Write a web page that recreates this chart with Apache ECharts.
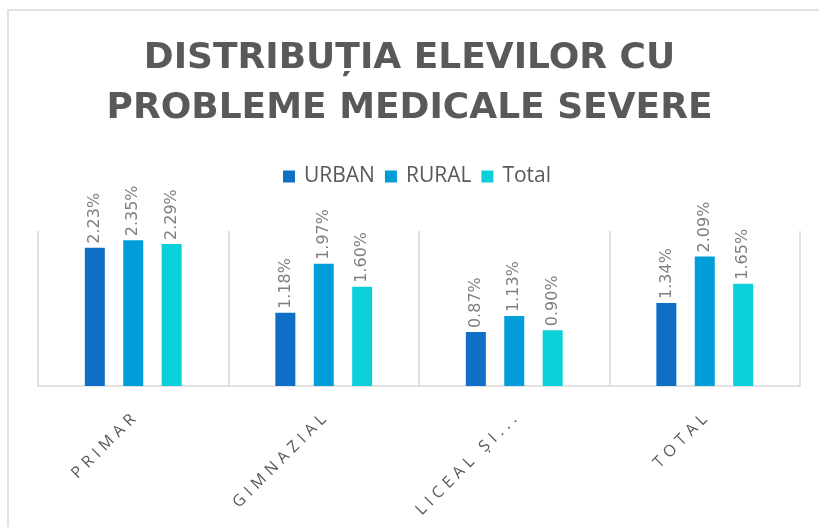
<!DOCTYPE html>
<html>
<head>
<meta charset="utf-8">
<script src="https://cdn.jsdelivr.net/npm/echarts@6/dist/echarts.min.js"></script>
<style>
html,body{margin:0;padding:0;background:#fff;}
#chart{width:819px;height:527px;}
</style>
</head>
<body>
<div id="chart"></div>
<script>
const titleText = 'DISTRIBUȚIA ELEVILOR CU\nPROBLEME MEDICALE SEVERE';
const categories = ['PRIMAR', 'GIMNAZIAL', 'LICEAL ȘI...', 'TOTAL'];
const seriesNames = ['URBAN', 'RURAL', 'Total'];
const urbanValues = [2.23, 1.18, 0.87, 1.34];
const ruralValues = [2.35, 1.97, 1.13, 2.09];
const totalValues = [2.29, 1.60, 0.90, 1.65];

const colors = ['#0F6FC6', '#009DD9', '#0BD0D9'];
const seriesData = [urbanValues, ruralValues, totalValues];

const chart = echarts.init(document.getElementById('chart'), null, {renderer: 'canvas'});

const labelCfg = {
  show: true,
  position: 'top',
  rotate: 90,
  align: 'left',
  verticalAlign: 'middle',
  distance: 4,
  color: '#7f7f7f',
  fontSize: 16,
  fontFamily: 'DejaVu Sans',
  formatter: p => p.value.toFixed(2) + '%'
};

// spaced-out axis labels (letter spacing emulated with rich text padding)
function spaced(text) {
  const chars = Array.from(text);
  return chars.map((c, i) => (i < chars.length - 1 ? '{s|' : '{e|') + c + '}').join('');
}

chart.setOption({
  animation: false,
  backgroundColor: '#ffffff',
  color: colors,
  graphic: [{
    type: 'rect',
    shape: {x: 8, y: 10, width: 900, height: 700},
    style: {fill: 'none', stroke: '#d9d9d9', lineWidth: 1.5},
    silent: true,
    z: -1
  }],
  title: {
    text: titleText,
    left: 'center',
    top: 29,
    textStyle: {
      fontFamily: 'DejaVu Sans',
      fontWeight: 'bold',
      fontSize: 36,
      lineHeight: 50,
      color: '#595959'
    }
  },
  legend: {
    data: seriesNames,
    left: 283,
    top: 166,
    padding: 0,
    icon: 'rect',
    itemWidth: 12,
    itemHeight: 12,
    itemGap: 10,
    textStyle: {
      fontFamily: 'Open Sans',
      fontSize: 21,
      color: '#595959',
      padding: [0, 0, 0, 4]
    }
  },
  grid: {left: 38, right: 19, top: 231, bottom: 141, containLabel: false},
  xAxis: {
    type: 'category',
    data: categories,
    axisLine: {show: true, lineStyle: {color: '#d9d9d9', width: 1.5}},
    axisTick: {show: false},
    splitLine: {show: true, lineStyle: {color: '#d9d9d9', width: 1.5}},
    axisLabel: {
      rotate: 45,
      margin: 31,
      interval: 0,
      color: '#595959',
      fontFamily: 'Open Sans',
      fontSize: 16,
      formatter: v => spaced(v),
      rich: {
        s: {fontFamily: 'Open Sans', fontSize: 16, color: '#595959', padding: [0, 5, 0, 0]},
        e: {fontFamily: 'Open Sans', fontSize: 16, color: '#595959'}
      }
    }
  },
  yAxis: {
    type: 'value',
    min: 0,
    max: 2.5,
    show: false,
    splitLine: {show: false}
  },
  series: seriesNames.map((name, i) => ({
    name: name,
    type: 'bar',
    data: seriesData[i],
    barWidth: 20,
    barGap: '92%',
    itemStyle: {color: colors[i]},
    label: labelCfg
  }))
});
</script>
</body>
</html>
